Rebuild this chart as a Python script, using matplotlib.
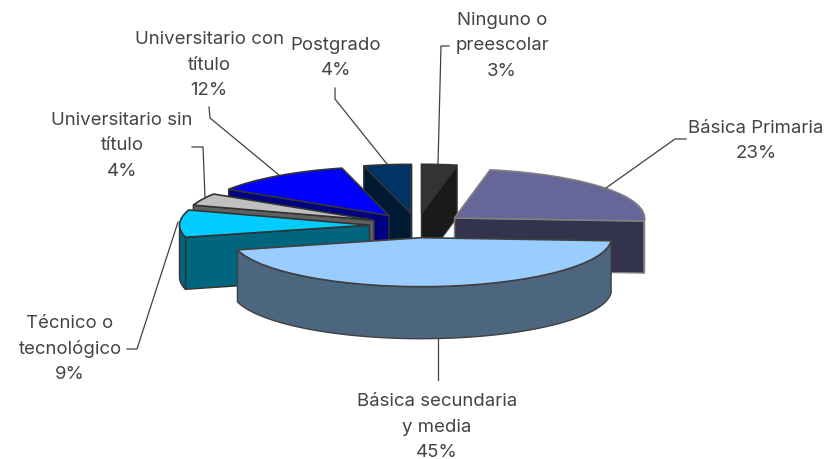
import numpy as np
from matplotlib import pyplot as plt
from matplotlib.patches import Polygon

# datos del grafico
categorias = ["Ninguno o\npreescolar", "Básica Primaria", "Básica secundaria\ny media",
              "Técnico o\ntecnológico", "Universitario sin\ntítulo",
              "Universitario con\ntítulo", "Postgrado"]
valores = [3, 23, 45, 9, 4, 12, 4]
color_arriba = ["#333333", "#666699", "#99ccff", "#00ccff", "#c0c0c0", "#0000ff", "#003366"]
color_lado = ["#1a1a1a", "#33334d", "#4d6680", "#006680", "#606060", "#000080", "#001a33"]
color_borde = ["#333333", "#808080", "#404040", "#333333", "#333333", "#333333", "#333333"]
orden = [0, 6, 5, 4, 3, 1, 2]  # orden de dibujo, de atras hacia adelante

W, H = 826, 459
RX, RY = 190.0, 49.0  # radios de la elipse en pixeles
CX, CY = 417.0, 225.5
ALTO = 52.0 / RY  # grosor del pastel


def dx(px):
    return (px - CX) / RX


def dy(py):
    return (CY - py) / RY


fig = plt.figure(figsize=(W / 100, H / 100), dpi=100)
ax = fig.add_axes([0, 0, 1, 1])

cunas, _ = ax.pie(valores, colors=color_arriba, startangle=90, counterclock=False,
                  explode=[0.25] * len(valores), radius=1.0)
ax.set_aspect("auto")
ax.set_xlim(dx(0), dx(W))
ax.set_ylim(dy(H), dy(0))
ax.axis("off")


def punto(c, t):
    return (c[0] + np.cos(np.radians(t)), c[1] + np.sin(np.radians(t)))


def cara(p, z, i):
    # extruye un tramo del borde hacia abajo
    p = np.array(p)
    q = p - [0, ALTO]
    ax.add_patch(Polygon(np.vstack([p, q[::-1]]), closed=True, facecolor=color_lado[i],
                         edgecolor=color_borde[i], lw=1.0, zorder=z, joinstyle="round"))


for z, i in enumerate(orden):
    w = cunas[i]
    c, t1, t2 = w.center, w.theta1, w.theta2
    w.set_edgecolor(color_borde[i])
    w.set_linewidth(1.2)
    w.set_zorder(2 * z + 1.5)
    # caras visibles: las que avanzan a la derecha en sentido antihorario
    p1, p2 = punto(c, t1), punto(c, t2)
    if p1[0] > c[0]:
        cara([c, p1], 2 * z + 1, i)
    if p2[0] < c[0]:
        cara([p2, c], 2 * z + 1, i)
    ang = np.linspace(t1, t2, 80)
    ang = ang[np.sin(np.radians(ang)) < 0]
    if len(ang) > 1:
        cara([punto(c, a) for a in ang], 2 * z + 1, i)

# lineas guia (pixeles)
guias = [
    [(438, 164), (441, 46), (449, 46)],
    [(606, 188), (675, 139), (686, 139)],
    [(438, 338), (438, 380)],
    [(178, 222), (137, 349), (127, 349)],
    [(205, 197), (203, 147), (192, 147)],
    [(279, 175), (210, 118), (209, 107)],
    [(387, 164), (335, 99), (335, 88)],
]
for g in guias:
    g = np.array(g, dtype=float)
    ax.plot(dx(g[:, 0]), dy(g[:, 1]), color="#404040", lw=0.9, zorder=20)

# etiquetas: centro en pixeles
pos_texto = [(502, 46), (756, 141), (437, 427), (70, 349), (122, 146), (209, 65), (336, 58)]
for cat, val, (x, y) in zip(categorias, valores, pos_texto):
    ax.text(dx(x), dy(y), f"{cat}\n{val}%", ha="center", va="center", fontsize=13.4,
            family="Inter", color="#444444", linespacing=1.62, zorder=21)

fig.savefig("out.png", dpi=100)
